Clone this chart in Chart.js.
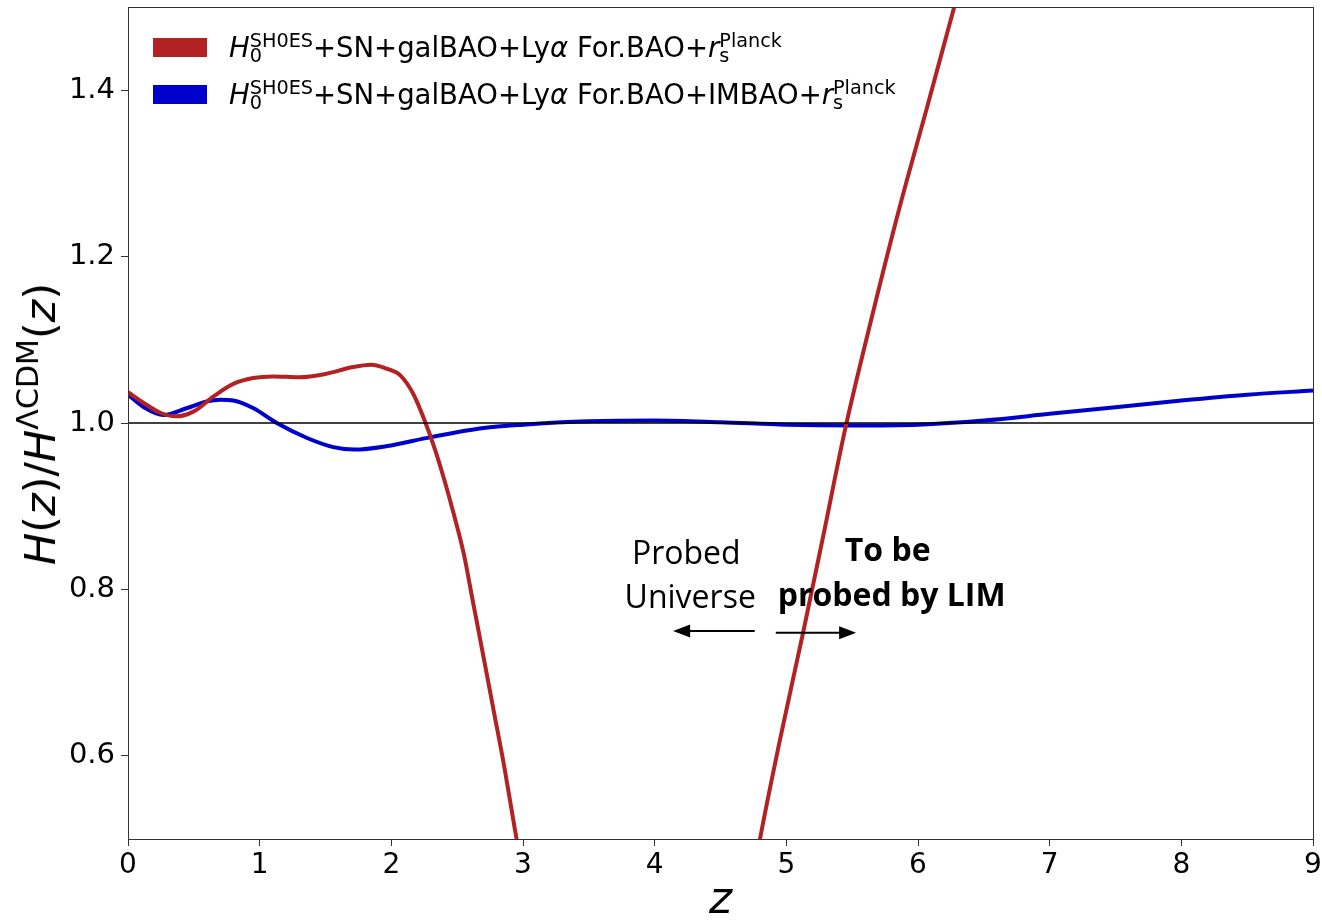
<!DOCTYPE html>
<html>
<head>
<meta charset="utf-8">
<script src="https://cdn.jsdelivr.net/npm/chart.js@4.4.1/dist/chart.umd.min.js"></script>
<style>
  html, body { margin:0; padding:0; background:#fff; }
  #wrap { position:relative; width:1322px; height:924px; overflow:hidden; }
  #c { position:absolute; left:0; top:0; }
  .lg { position:absolute; left:153px; font-family:'DejaVu Sans'; font-size:27.5px; color:#000; white-space:nowrap; }
  .lg .sw { position:absolute; left:0; width:54px; height:19px; }
  .lg .tx { position:absolute; left:76px; line-height:1; }
  .ss { display:inline-flex; flex-direction:column; font-size:0.7em; line-height:0.8; vertical-align:0.5em; }
  .ss span { display:block; }
  #ytitle { position:absolute; left:40px; top:424px; transform:translate(-50%,-50%) rotate(-90deg); font-family:'DejaVu Sans'; font-size:43px; white-space:nowrap; color:#000; }
  #ytitle sup { font-size:0.7em; vertical-align:0.55em; line-height:0; }
</style>
</head>
<body>
<div id="wrap">
  <canvas id="c" width="1322" height="924"></canvas>
  <div class="lg" style="top:38px;">
    <div class="sw" style="background:#B22222;"></div>
    <div class="tx" style="top:-5px;"><i>H</i><span class="ss"><span>SH0ES</span><span>0</span></span>+SN+galBAO+Ly<i>α</i> For.BAO+<i>r</i><span class="ss"><span>Planck</span><span>s</span></span></div>
  </div>
  <div class="lg" style="top:85px;">
    <div class="sw" style="background:#0000CD;"></div>
    <div class="tx" style="top:-5px;"><i>H</i><span class="ss"><span>SH0ES</span><span>0</span></span>+SN+galBAO+Ly<i>α</i> For.BAO+IMBAO+<i>r</i><span class="ss"><span>Planck</span><span>s</span></span></div>
  </div>
  <div id="ytitle"><i>H</i>(<i>z</i>)/<i>H</i><sup>ΛCDM</sup>(<i>z</i>)</div>
</div>
<script>
// ---- data ----
const zRed = [0, 0.12, 0.25, 0.36, 0.5, 0.65, 0.8, 0.95, 1.1, 1.3, 1.5, 1.7, 1.85, 1.95, 2.07, 2.17, 2.26, 2.33, 2.40, 2.47, 2.55, 2.62, 2.70, 2.78, 2.86, 2.94, 3.02, 3.9, 4.70, 4.80, 4.95, 5.13, 5.28, 5.45, 5.66, 5.86, 6.07, 6.27, 6.45];
const hRed = [1.037, 1.024, 1.012, 1.008, 1.014, 1.032, 1.047, 1.054, 1.056, 1.055, 1.059, 1.067, 1.070, 1.066, 1.057, 1.034, 1.000, 0.969, 0.933, 0.893, 0.843, 0.785, 0.719, 0.652, 0.585, 0.510, 0.440, null, 0.410, 0.500, 0.618, 0.750, 0.864, 0.995, 1.134, 1.259, 1.380, 1.497, 1.600];

const zBlue = [0, 0.12, 0.27, 0.45, 0.6, 0.7, 0.8, 0.95, 1.13, 1.36, 1.56, 1.72, 1.96, 2.3, 2.7, 3.0, 3.5, 4.0, 4.5, 5.0, 5.5, 6.0, 6.5, 7.0, 7.5, 8.0, 8.5, 9.0];
const hBlue = [1.034, 1.019, 1.0096, 1.018, 1.026, 1.028, 1.027, 1.018, 1.000, 0.982, 0.971, 0.968, 0.972, 0.983, 0.994, 0.998, 1.002, 1.003, 1.001, 0.998, 0.997, 0.998, 1.003, 1.011, 1.019, 1.027, 1.034, 1.039];

const zRef = [0, 9];
const hRef = [1, 1];

const xTicks = [0, 1, 2, 3, 4, 5, 6, 7, 8, 9];
const yTicks = [0.6, 0.8, 1.0, 1.2, 1.4];

const seriesLabels = [
  'H0^SH0ES+SN+galBAO+Lyα For.BAO+rs^Planck',
  'H0^SH0ES+SN+galBAO+Lyα For.BAO+IMBAO+rs^Planck'
];

// annotation texts (anchored in data coordinates)
const notes = [
  { text: 'Probed',        z: 4.24, v: 0.841, bold: false },
  { text: 'Universe',      z: 4.27, v: 0.789, bold: false },
  { text: 'To be',         z: 5.77, v: 0.845, bold: true },
  { text: 'probed by LIM', z: 5.80, v: 0.791, bold: true }
];
const arrows = [
  { z0: 4.76, z1: 4.14, v: 0.750 },
  { z0: 4.92, z1: 5.53, v: 0.748 }
];

const toXY = (zs, hs) => zs.map((z, i) => ({ x: z, y: hs[i] }));

const frame = {
  id: 'frame',
  afterDatasetsDraw(chart) {
    const { ctx, chartArea: a, scales: { x, y } } = chart;
    ctx.save();
    ctx.fillStyle = '#000';
    ctx.textAlign = 'center';
    ctx.textBaseline = 'middle';
    notes.forEach(n => {
      ctx.font = (n.bold ? 'bold ' : '') + '32px "Open Sans"';
      ctx.fillText(n.text, x.getPixelForValue(n.z), y.getPixelForValue(n.v));
    });
    ctx.strokeStyle = '#000';
    ctx.lineWidth = 2;
    arrows.forEach(ar => {
      const x0 = x.getPixelForValue(ar.z0), x1 = x.getPixelForValue(ar.z1), yy = y.getPixelForValue(ar.v);
      const dir = Math.sign(x1 - x0);
      ctx.beginPath();
      ctx.moveTo(x0, yy);
      ctx.lineTo(x1 - dir * 12, yy);
      ctx.stroke();
      ctx.beginPath();
      ctx.moveTo(x1, yy);
      ctx.lineTo(x1 - dir * 17, yy - 6.5);
      ctx.lineTo(x1 - dir * 17, yy + 6.5);
      ctx.closePath();
      ctx.fill();
    });
    ctx.strokeStyle = '#333';
    ctx.lineWidth = 1;
    ctx.strokeRect(Math.round(a.left) + 0.5, Math.round(a.top) + 0.5, Math.round(a.right - a.left), Math.round(a.bottom - a.top));
    ctx.restore();
  }
};

new Chart(document.getElementById('c'), {
  type: 'line',
  data: {
    datasets: [
      { label: 'ref', data: toXY(zRef, hRef), borderColor: '#000', borderWidth: 1.4, pointRadius: 0, clip: 0, tension: 0 },
      { label: seriesLabels[0], data: toXY(zRed, hRed), borderColor: '#B22222', borderWidth: 4, pointRadius: 0, cubicInterpolationMode: 'monotone', clip: 0, spanGaps: false },
      { label: seriesLabels[1], data: toXY(zBlue, hBlue), borderColor: '#0000CD', borderWidth: 4, pointRadius: 0, cubicInterpolationMode: 'monotone', clip: 0 }
    ]
  },
  options: {
    responsive: false,
    animation: false,
    devicePixelRatio: 1,
    layout: { padding: { top: 7, right: 9, left: 0, bottom: 0 } },
    plugins: { legend: { display: false }, tooltip: { enabled: false } },
    scales: {
      x: {
        type: 'linear', min: 0, max: 9,
        afterBuildTicks: s => { s.ticks = xTicks.map(v => ({ value: v })); },
        ticks: { font: { family: 'DejaVu Sans', size: 28 }, color: '#000', padding: 3, maxRotation: 0, callback: v => String(v) },
        grid: { drawOnChartArea: false, drawTicks: true, tickLength: 7, color: '#333', tickColor: '#333' },
        border: { color: '#333', width: 1 },
        title: { display: true, text: 'z', font: { family: 'DejaVu Sans', style: 'italic', size: 44 }, color: '#000', padding: { top: 0, bottom: -4 } },
        afterFit: s => { s.height = 85; s.paddingLeft = 0; s.paddingRight = 0; }
      },
      y: {
        type: 'linear', min: 0.5, max: 1.5,
        afterBuildTicks: s => { s.ticks = yTicks.map(v => ({ value: v })); },
        ticks: { font: { family: 'DejaVu Sans', size: 29 }, color: '#000', padding: 6, callback: v => v.toFixed(1) },
        grid: { drawOnChartArea: false, drawTicks: true, tickLength: 7, color: '#333', tickColor: '#333' },
        border: { color: '#333', width: 1 },
        afterFit: s => { s.width = 128; s.paddingTop = 0; s.paddingBottom = 0; }
      }
    }
  },
  plugins: [frame]
});
</script>
</body>
</html>
